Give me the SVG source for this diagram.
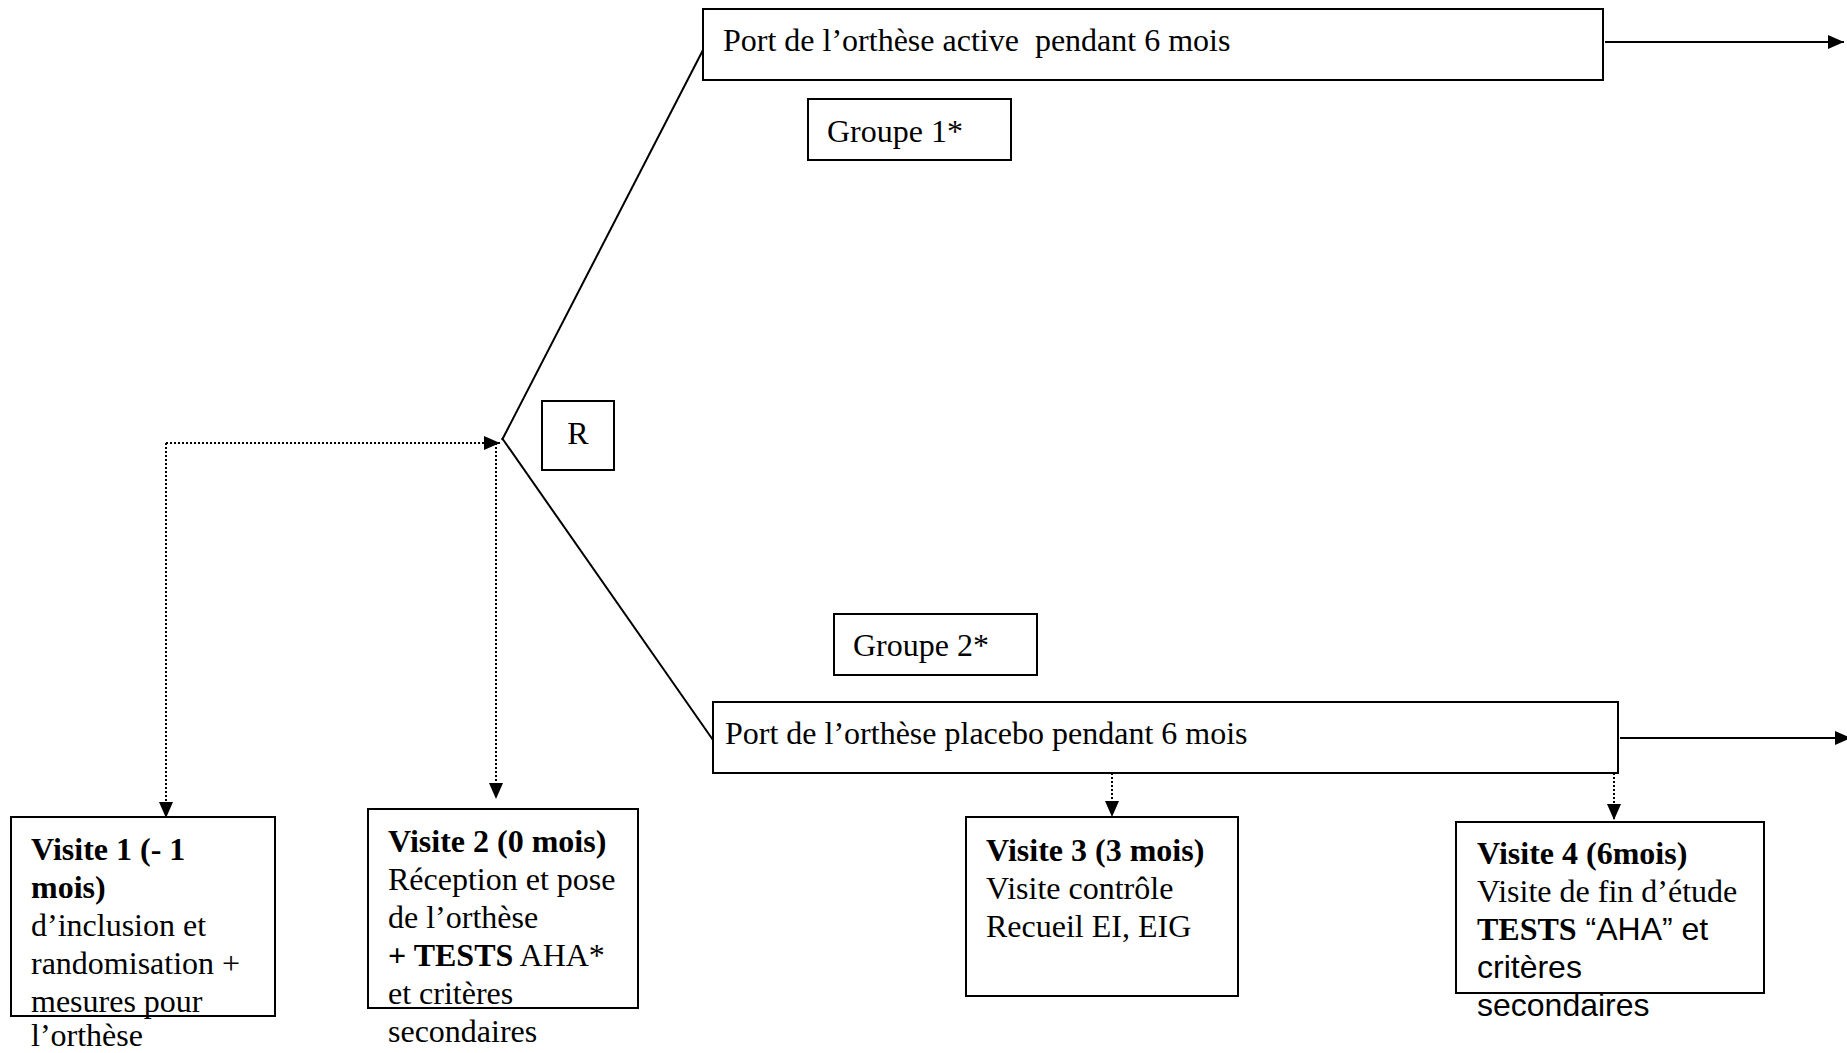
<svg xmlns="http://www.w3.org/2000/svg" width="1847" height="1053" viewBox="0 0 1847 1053">
<style>
  .box { fill: #ffffff; stroke: #000000; stroke-width: 2; }
  .t { font-family: "Liberation Serif", "Times New Roman", serif; font-size: 32px; fill: #000000; }
  .s { font-family: "Liberation Sans", Arial, sans-serif; font-size: 32px; fill: #000000; }
  .b { font-weight: bold; }
  .solid { stroke: #000000; stroke-width: 2; fill: none; }
  .dot { stroke: #000000; stroke-width: 2; fill: none; stroke-dasharray: 2 2; }
</style>
<defs>
  <marker id="arrow" markerUnits="userSpaceOnUse" markerWidth="16" markerHeight="14" refX="16" refY="7" orient="auto" viewBox="0 0 16 14">
    <path d="M0,0 L16,7 L0,14 Z" fill="#000000"/>
  </marker>
</defs>
<rect x="0" y="0" width="1847" height="1053" fill="#ffffff"/>

<g id="connectors">
  <line class="solid" x1="502" y1="440" x2="703" y2="50"/>
  <line class="solid" x1="502" y1="438" x2="713" y2="740"/>
  <line class="solid" x1="1605" y1="42" x2="1844" y2="42" marker-end="url(#arrow)"/>
  <line class="solid" x1="1620" y1="738" x2="1851" y2="738" marker-end="url(#arrow)"/>
  <line class="dot" x1="166" y1="443" x2="500" y2="443" marker-end="url(#arrow)"/>
  <line class="dot" x1="166" y1="443" x2="166" y2="818" marker-end="url(#arrow)"/>
  <line class="dot" x1="496" y1="443" x2="496" y2="799" marker-end="url(#arrow)"/>
  <line class="dot" x1="1112" y1="773" x2="1112" y2="817" marker-end="url(#arrow)"/>
  <line class="dot" x1="1614" y1="773" x2="1614" y2="820" marker-end="url(#arrow)"/>
</g>

<g id="active">
  <rect class="box" x="703" y="9" width="900" height="71"/>
  <text class="t" x="723" y="51" xml:space="preserve">Port de l’orthèse active  pendant 6 mois</text>
</g>
<g id="groupe1">
  <rect class="box" x="808" y="99" width="203" height="61"/>
  <text class="t" x="827" y="142">Groupe 1*</text>
</g>
<g id="R">
  <rect class="box" x="542" y="401" width="72" height="69"/>
  <text class="t" x="578" y="444" text-anchor="middle">R</text>
</g>
<g id="groupe2">
  <rect class="box" x="834" y="614" width="203" height="61"/>
  <text class="t" x="853" y="656">Groupe 2*</text>
</g>
<g id="placebo">
  <rect class="box" x="713" y="702" width="905" height="71"/>
  <text class="t" x="725" y="744">Port de l’orthèse placebo pendant 6 mois</text>
</g>

<g id="visite1">
  <rect class="box" x="11" y="817" width="264" height="199"/>
  <text class="t b" x="31" y="860">Visite 1 (- 1</text>
  <text class="t b" x="31" y="898">mois)</text>
  <text class="t" x="31" y="936">d’inclusion et</text>
  <text class="t" x="31" y="974">randomisation +</text>
  <text class="t" x="31" y="1012">mesures pour</text>
  <text class="t" x="31" y="1046">l’orthèse</text>
</g>
<g id="visite2">
  <rect class="box" x="368" y="809" width="270" height="199"/>
  <text class="t b" x="388" y="852">Visite 2 (0 mois)</text>
  <text class="t" x="388" y="890">Réception et pose</text>
  <text class="t" x="388" y="928">de l’orthèse</text>
  <text class="t" x="388" y="966"><tspan class="b">+ TESTS</tspan> AHA*</text>
  <text class="t" x="388" y="1004">et critères</text>
  <text class="t" x="388" y="1042">secondaires</text>
</g>
<g id="visite3">
  <rect class="box" x="966" y="817" width="272" height="179"/>
  <text class="t b" x="986" y="861">Visite 3 (3 mois)</text>
  <text class="t" x="986" y="899">Visite contrôle</text>
  <text class="t" x="986" y="937">Recueil EI, EIG</text>
</g>
<g id="visite4">
  <rect class="box" x="1456" y="822" width="308" height="171"/>
  <text class="t b" x="1477" y="864">Visite 4 (6mois)</text>
  <text class="t" x="1477" y="902">Visite de fin d’étude</text>
  <text class="t" x="1477" y="940" xml:space="preserve"><tspan class="b">TESTS</tspan><tspan class="s"> “AHA” et</tspan></text>
  <text class="s" x="1477" y="978">critères</text>
  <text class="s" x="1477" y="1016">secondaires</text>
</g>
</svg>
